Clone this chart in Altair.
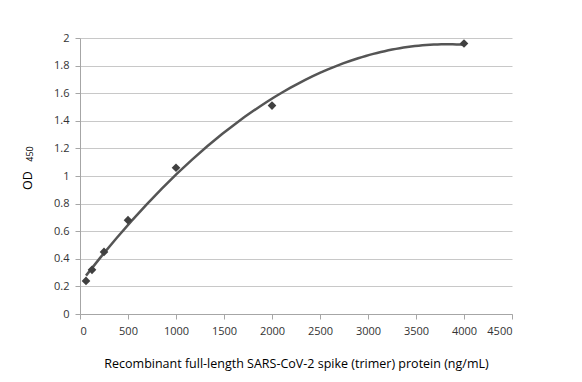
import altair as alt
import pandas as pd

conc = [62.5, 125, 250, 500, 1000, 2000, 4000]
od = [0.24, 0.32, 0.45, 0.68, 1.06, 1.51, 1.96]
x_ticks = [0, 500, 1000, 1500, 2000, 2500, 3000, 3500, 4000, 4500]
y_ticks = [0, 0.2, 0.4, 0.6, 0.8, 1, 1.2, 1.4, 1.6, 1.8, 2]

df = pd.DataFrame({"conc": conc, "od": od})

FONT = "Open Sans"
x_enc = alt.X(
    "conc:Q",
    scale=alt.Scale(domain=[0, 4500], nice=False),
    axis=alt.Axis(
        values=x_ticks,
        format="d",
        labelOverlap=False,
        grid=False,
        title="Recombinant full-length SARS-CoV-2 spike (trimer) protein (ng/mL)",
        titleFont=FONT, titleFontSize=12.5, titleFontWeight="normal", titleColor="#000000",
        titlePadding=21,
        labelFont=FONT, labelFontSize=11, labelColor="#333333", labelPadding=6,
        domainColor="#a6a6a6", tickColor="#a6a6a6", tickSize=5,
    ),
)
y_enc = alt.Y(
    "od:Q",
    scale=alt.Scale(domain=[0, 2], nice=False),
    axis=alt.Axis(
        values=y_ticks,
        format="~g",
        labelOverlap=False,
        grid=True, gridColor="#c8c8c8",
        title="OD",
        titleFont=FONT, titleFontSize=12.5, titleFontWeight="normal", titleColor="#000000",
        titleX=-53, titleY=142, titleAngle=270, titleAlign="center", titleBaseline="middle",
        labelFont=FONT, labelFontSize=11, labelColor="#333333", labelPadding=6,
        domainColor="#a6a6a6", tickColor="#a6a6a6", tickSize=5,
    ),
)

base = alt.Chart(df)

curve = base.transform_regression(
    "conc", "od", method="poly", order=2, extent=[62.5, 4000]
).mark_line(color="#555555", strokeWidth=2.5).encode(x=x_enc, y=y_enc)

points = base.mark_point(
    shape="diamond", filled=True, color="#404040", size=75, opacity=1
).encode(x=x_enc, y=y_enc)

sub = alt.Chart(pd.DataFrame({"t": ["450"]})).mark_text(
    angle=270, font=FONT, fontSize=9, color="#000000", align="center", baseline="middle"
).encode(text="t:N", x=alt.value(-50), y=alt.value(116))

chart = alt.layer(curve, points, sub).properties(
    width=432,
    height=276,
    autosize=alt.AutoSizeParams(type="none"),
    padding={"left": 72, "top": 30, "right": 62, "bottom": 60},
).configure_view(stroke=None)

chart.save("out.html", embed_options={"renderer": "svg", "actions": False})
